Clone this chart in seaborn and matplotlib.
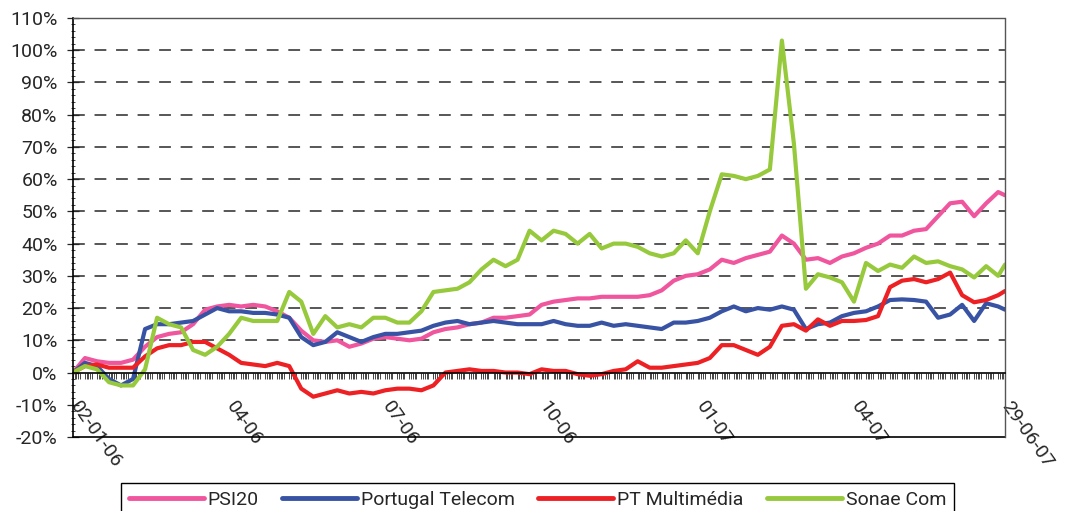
import pandas as pd
import matplotlib
matplotlib.use("Agg")
import matplotlib.pyplot as plt
import matplotlib.transforms as mtransforms
import seaborn as sns

# weekly readings, 02-01-06 .. 25-06-07, plus the last day 29-06-07
dates = list(pd.date_range("2006-01-02", periods=78, freq="7D")) + [pd.Timestamp("2007-06-29")]

psi20 = [0, 4.5, 3.5, 3, 3, 4, 8, 11, 12, 12.5,
         15, 19.5, 20.5, 21, 20.5, 21, 20.5, 19, 17, 13,
         10, 9.5, 10, 8, 9, 10.5, 11, 10.5, 10, 10.5,
         12.5, 13.5, 14, 15, 15.5, 17, 17, 17.5, 18, 21,
         22, 22.5, 23, 23, 23.5, 23.5, 23.5, 23.5, 24, 25.5,
         28.5, 30, 30.5, 32, 35, 34, 35.5, 36.5, 37.5, 42.5,
         40, 35, 35.5, 34, 36, 37, 38.7, 40, 42.5, 42.5,
         44, 44.5, 48.5, 52.5, 53, 48.5, 52.5, 56, 55]

pt = [0, 3, 2, -2, -4, -2, 13.5, 15, 15, 15.5,
      16, 18, 20, 19, 19, 18.5, 18.5, 18, 17, 11,
      8.5, 9.5, 12.5, 11, 9.5, 11, 12, 12, 12.5, 13,
      14.5, 15.5, 16, 15, 15.5, 16, 15.5, 15, 15, 15,
      16, 15, 14.5, 14.5, 15.5, 14.5, 15, 14.5, 14, 13.5,
      15.5, 15.5, 16, 17, 19, 20.5, 19, 20, 19.5, 20.5,
      19.5, 13.5, 15, 15.5, 17.5, 18.5, 19, 20.5, 22.5, 22.7,
      22.5, 22, 17, 18, 21, 16, 21.5, 20.5, 19.5]

ptm = [0, 2, 2.5, 1.5, 1.5, 1.5, 5, 7.5, 8.5, 8.5,
       9.5, 9.5, 7.5, 5.5, 3, 2.5, 2, 3, 2, -5,
       -7.5, -6.5, -5.5, -6.5, -6, -6.5, -5.5, -5, -5, -5.5,
       -4, 0, 0.5, 1, 0.5, 0.5, 0, 0, -0.5, 1,
       0.5, 0.5, -0.5, -1, -0.5, 0.5, 1, 3.5, 1.5, 1.5,
       2, 2.5, 3, 4.5, 8.5, 8.5, 7, 5.5, 8, 14.5,
       15, 13, 16.5, 14.5, 16, 16, 16.3, 17.5, 26.5, 28.5,
       29, 28, 29, 31, 24, 21.8, 22.5, 24, 25.3]

sonae = [0, 2, 1, -3, -4, -4, 1, 17, 15, 14,
         7, 5.5, 8, 12, 17, 16, 16, 16, 25, 22,
         12, 17.5, 14, 15, 14, 17, 17, 15.5, 15.5, 19,
         25, 25.5, 26, 28, 32, 35, 33, 35, 44, 41,
         44, 43, 40, 43, 38.5, 40, 40, 39, 37, 36,
         37, 41, 37, 50, 61.5, 61, 60, 61, 63, 103,
         71, 26, 30.5, 29.5, 28, 22, 34, 31.5, 33.5, 32.5,
         36, 34, 34.5, 33, 32, 29.5, 33, 30, 33.5]

names = ["PSI20", "Portugal Telecom", "PT Multimédia", "Sonae Com"]
colors = ["#F0569E", "#3853A4", "#ED2024", "#97C93D"]

tick_dates = ["2006-01-02", "2006-04-03", "2006-07-03", "2006-10-02",
              "2007-01-02", "2007-04-02", "2007-06-29"]
tick_labels = ["02-01-06", "04-06", "07-06", "10-06", "01-07", "04-07", "29-06-07"]

df = pd.DataFrame({"date": dates, names[0]: psi20, names[1]: pt,
                   names[2]: ptm, names[3]: sonae})
long = df.melt(id_vars="date", var_name="serie", value_name="valor")

sns.set_style("white")
plt.rcParams["font.family"] = ["Roboto", "DejaVu Sans"]
plt.rcParams["lines.scale_dashes"] = False

fig = plt.figure(figsize=(10.65, 5.11), dpi=100)
ax = fig.add_axes([0.0685, 0.1448, 0.8752, 0.8200])

sns.lineplot(data=long, x="date", y="valor", hue="serie", hue_order=names,
             palette=colors, linewidth=3, ax=ax)
handles, labels = ax.get_legend_handles_labels()
ax.get_legend().remove()

ax.set_xlim(pd.Timestamp("2006-01-02"), pd.Timestamp("2007-06-29"))
ax.set_ylim(-20, 110)
ax.set_xlabel("")
ax.set_ylabel("")

# dashed grid only above zero
for v in range(10, 101, 10):
    ax.axhline(v, color="#3a3a3a", lw=1.2, ls=(0, (8.5, 7)), zorder=0)

ax.set_yticks(range(-20, 111, 10))
ax.set_yticklabels([f"{v}%" for v in range(-20, 111, 10)], fontsize=14)
ax.set_yticks(range(-20, 111, 2), minor=True)
ax.tick_params(axis="y", which="both", left=True)
ax.tick_params(axis="y", which="major", direction="inout", length=8, width=0.9, pad=7)
ax.tick_params(axis="y", which="minor", direction="inout", length=2.5, width=0.6)

# category axis crosses at 0
ax.spines["bottom"].set_position(("data", 0))
ax.spines["bottom"].set_linewidth(1.2)
ax.spines["left"].set_linewidth(1.2)
ax.spines["left"].set_color("black")
ax.spines["bottom"].set_color("black")
for s in ["top", "right"]:
    ax.spines[s].set_color("#555555")
    ax.spines[s].set_linestyle((0, (1, 1)))
    ax.spines[s].set_linewidth(1)
ax.plot([0, 1], [0, 0], transform=ax.transAxes, color="black", lw=1.2, clip_on=False)

ax.set_xticks(pd.to_datetime(tick_dates))
ax.set_xticklabels(tick_labels, fontsize=14)
ax.set_xticks(pd.bdate_range("2006-01-02", "2007-06-29"), minor=True)
ax.tick_params(axis="x", which="both", bottom=True, direction="out", length=4,
               width=0.7, color="#444444", pad=14)
shift = mtransforms.ScaledTranslation(8 / 100, 0, fig.dpi_scale_trans)
for lbl in ax.get_xticklabels():
    lbl.set_rotation(-55)
    lbl.set_ha("left")
    lbl.set_va("top")
    lbl.set_rotation_mode("anchor")
    lbl.set_transform(lbl.get_transform() + shift)

leg = fig.legend(handles, labels, loc="upper center", bbox_to_anchor=(0.5047, 0.055),
                 borderaxespad=0, ncol=4, frameon=True, fancybox=False,
                 edgecolor="black", framealpha=1, fontsize=14, handlelength=3.85,
                 handletextpad=0.2, columnspacing=1.2, borderpad=0.4)
leg.get_frame().set_linewidth(1)
for h in leg.get_lines():
    h.set_linewidth(3.5)

fig.savefig("out.png", dpi=100)
